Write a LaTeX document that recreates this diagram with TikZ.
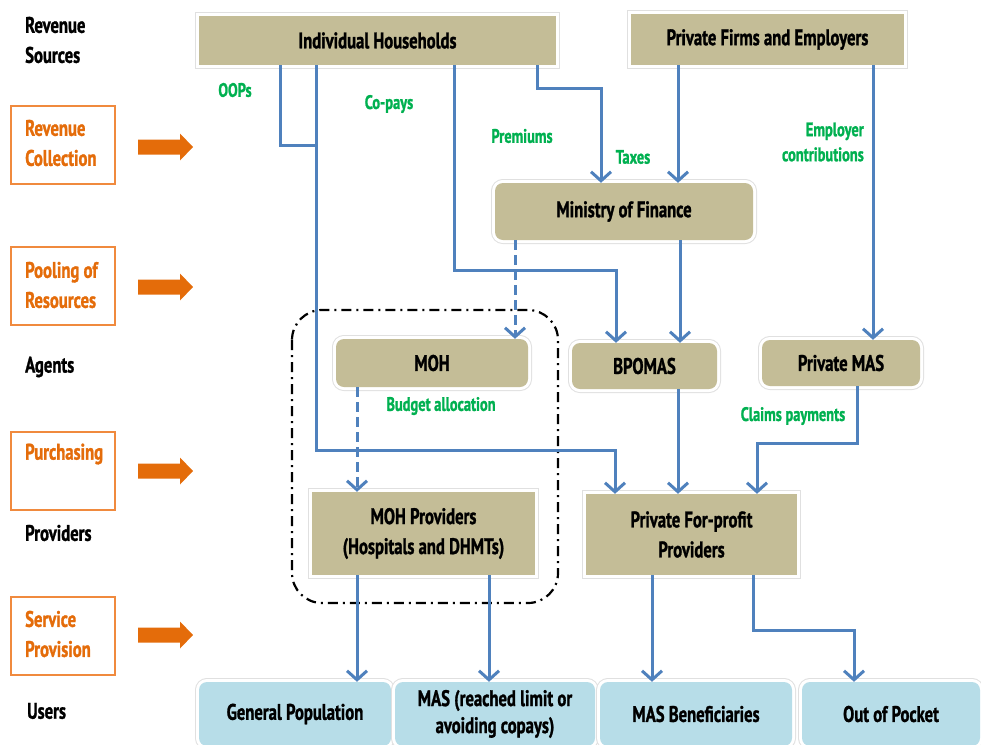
\documentclass[tikz,border=0pt]{standalone}
\usepackage{fontspec}
\setmainfont{PT Sans}[FakeStretch=0.74,BoldFeatures={FakeBold=1.2}]
\usetikzlibrary{arrows.meta,calc}
\definecolor{tan}{HTML}{C4BD97}
\definecolor{lblue}{HTML}{B7DDE8}
\definecolor{flowblue}{HTML}{4F81BD}
\definecolor{orng}{HTML}{E46C0A}
\definecolor{orngbox}{HTML}{F08A3E}
\definecolor{grn}{HTML}{00B050}
\tikzset{
  halo/.style={preaction={draw=black!12,line width=8pt},preaction={draw=white,line width=6pt}},
  tanbox/.style={halo,fill=tan,inner sep=0pt,align=center,font=\fontsize{22.5}{30}\selectfont\bfseries},
  tanround/.style={tanbox,rounded corners=8pt},
  userbox/.style={halo,fill=lblue,rounded corners=8pt,inner sep=0pt,align=center,font=\fontsize{22.5}{27}\selectfont\bfseries},
  flow/.style={draw=flowblue,line width=3pt},
  flowarr/.style={flow,-{Straight Barb[length=9pt,width=20pt,line width=3pt]}},
  dflowarr/.style={flowarr,dash pattern=on 10pt off 5pt},
  glabel/.style={text=grn,font=\fontsize{19.5}{25}\selectfont\bfseries,inner sep=0pt},
  sidelabel/.style={anchor=west,inner sep=0pt,align=left,font=\fontsize{22.5}{30}\selectfont\bfseries},
  stagebox/.style={draw=orngbox,line width=1.5pt,inner sep=0pt,minimum width=104pt,minimum height=78pt},
  orngarrow/.style={fill=orng},
}
\begin{document}
\begin{tikzpicture}[x=1pt,y=-1pt]
\useasboundingbox (0,0) rectangle (981,744);
% left side labels
\node[sidelabel] (rs) at (25,40) {Revenue\\Sources};
\node[stagebox] (rcbox) at (63,145) {};
\node[sidelabel,text=orng] (rc) at (25,143) {Revenue\\Collection};
\node[stagebox] (prbox) at (63,286) {};
\node[sidelabel,text=orng] (pr) at (25,285) {Pooling of\\Resources};
\node[sidelabel] (ag) at (25,367) {Agents};
\node[stagebox] (pubox) at (63,471) {};
\node[sidelabel,text=orng] (pu) at (25,454) {Purchasing};
\node[sidelabel] (pv) at (25,533) {Providers};
\node[stagebox] (spbox) at (63,636) {};
\node[sidelabel,text=orng] (sp) at (25,634) {Service\\Provision};
\node[sidelabel] (us) at (27,711) {Users};
% orange arrows
\foreach \yy in {147,287,471,635}{
  \fill[orngarrow] (138,\yy-7.5) -- (180,\yy-7.5) -- (180,\yy-13.5) -- (193,\yy) -- (180,\yy+13.5) -- (180,\yy+7.5) -- (138,\yy+7.5) -- cycle;
}
% dash-dot group
\draw[line width=2.2pt,rounded corners=30pt,dash pattern=on 10pt off 5pt on 2pt off 5pt] (292,310) rectangle (558,603);
% nodes
\node[tanbox,minimum width=357pt,minimum height=49pt] (ih) at (377.5,40.5) {Individual Households};
\node[tanbox,minimum width=273pt,minimum height=51pt] (pfe) at (767.5,39.5) {Private Firms and Employers};
\node[tanround,minimum width=258pt,minimum height=57pt] (mof) at (624,211.5) {Ministry of Finance};
\node[tanround,minimum width=192pt,minimum height=48pt] (moh) at (432,363) {MOH};
\node[tanround,minimum width=145pt,minimum height=46pt] (bpomas) at (644.5,366) {BPOMAS};
\node[tanround,minimum width=158pt,minimum height=46pt] (pmas) at (841,363) {Private MAS};
\node[tanbox,minimum width=223pt,minimum height=83pt] (mohp) at (423.5,533.5) {MOH Providers\\(Hospitals and DHMTs)};
\node[tanbox,minimum width=211pt,minimum height=81pt] (pfp) at (691.5,534.5) {Private For-profit\\Providers};
\node[userbox,minimum width=192pt,minimum height=64pt] (gp) at (295,714) {General Population};
\node[userbox,minimum width=200pt,minimum height=64pt] (mas) at (495,714) {MAS (reached limit or\\avoiding copays)};
\node[userbox,minimum width=192pt,minimum height=64pt] (masb) at (696,714) {MAS Beneficiaries};
\node[userbox,minimum width=178pt,minimum height=64pt] (oop) at (891,714) {Out of Pocket};
% connectors
\coordinate (j1) at (316,145);
\draw[flow] ([xshift=-97.5]ih.south) |- (j1);
\draw[flowarr] ([xshift=-61.5]ih.south) -- ++(0,385) -| ([xshift=-76.5]pfp.north);
\draw[flowarr] ([xshift=76.5]ih.south) -- ++(0,205) -| ([xshift=-28.5]bpomas.north);
\draw[flowarr] ([xshift=159.5]ih.south) -- ++(0,23) -| ([xshift=-23]mof.north);
\draw[flowarr] ([xshift=-89.5]pfe.south) -- ([xshift=-89.5]pfe.south |- mof.north);
\draw[flowarr] ([xshift=105.5]pfe.south) -- ([xshift=105.5]pfe.south |- pmas.north);
\draw[flowarr] ([xshift=56]mof.south) -- ([xshift=56]mof.south |- bpomas.north);
\draw[dflowarr] ([xshift=-109]mof.south) -- ([xshift=-109]mof.south |- moh.north);
\draw[dflowarr] ([xshift=-75]moh.south) -- ([xshift=-75]moh.south |- mohp.north);
\draw[flowarr] ([xshift=33.5]bpomas.south) -- ([xshift=33.5]bpomas.south |- pfp.north);
\draw[flowarr] ([xshift=16]pmas.south) -- ++(0,57) -| ([xshift=65.5]pfp.north);
\draw[flowarr] ([xshift=-66.5]mohp.south) -- ([xshift=-66.5]mohp.south |- gp.north);
\draw[flowarr] ([xshift=65.5]mohp.south) -- ([xshift=65.5]mohp.south |- mas.north);
\draw[flowarr] ([xshift=-39.5]pfp.south) -- ([xshift=-39.5]pfp.south |- masb.north);
\draw[flowarr] ([xshift=61.5]pfp.south) -- ++(0,55) -| ([xshift=-37]oop.north);
% green labels
\node[glabel] (l1) at (235,90) {OOPs};
\node[glabel] (l2) at (389,104) {Co-pays};
\node[glabel] (l3) at (522,136) {Premiums};
\node[glabel] (l4) at (633,157) {Taxes};
\node[glabel,align=right,anchor=east] (l5) at (864,142) {Employer\\contributions};
\node[glabel] (l6) at (441,406) {Budget allocation};
\node[glabel] (l7) at (793,416) {Claims payments};
\end{tikzpicture}
\end{document}
